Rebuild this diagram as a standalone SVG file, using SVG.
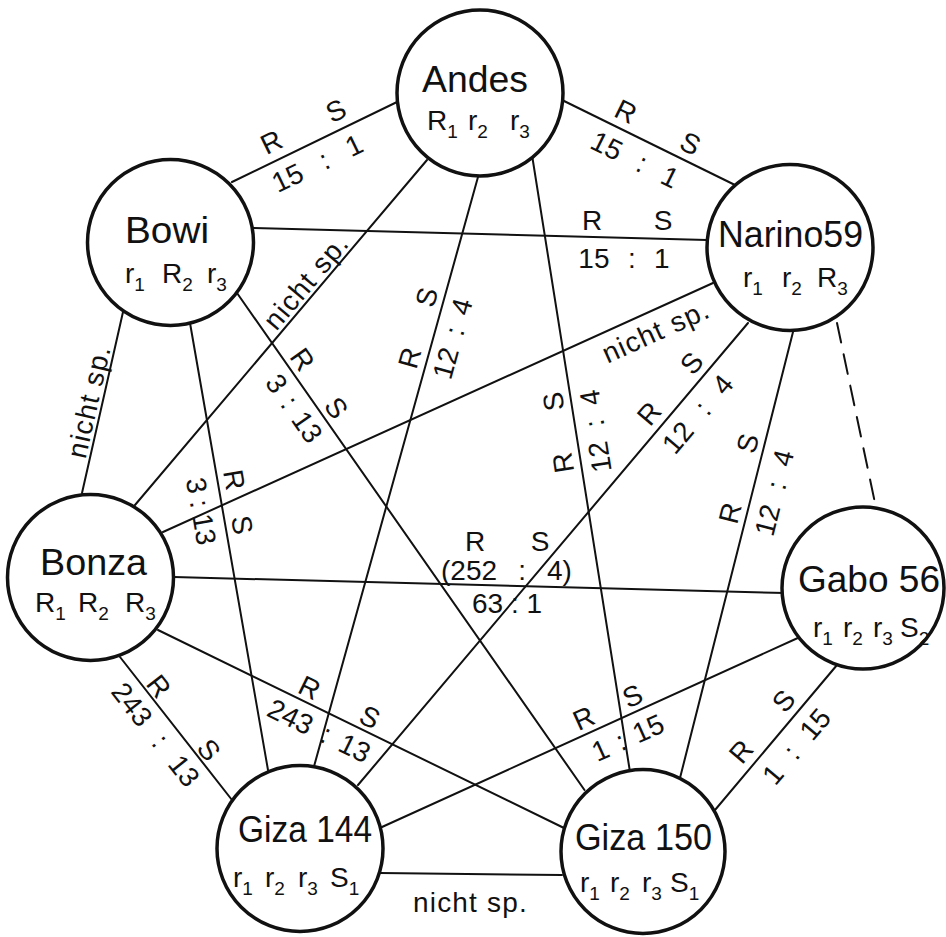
<svg xmlns="http://www.w3.org/2000/svg" width="946" height="937" viewBox="0 0 946 937">
<style>
text{font-family:"Liberation Sans",Arial,sans-serif;fill:#111}
.edge line{stroke:#111;stroke-width:2;fill:none;stroke-linecap:round}
.dashed{stroke-dasharray:20 12}
.lbl{font-size:28px;text-anchor:middle}
.ns{font-size:28px;text-anchor:middle;letter-spacing:1.2px}
.node circle{fill:#fff;stroke:#111;stroke-width:3.5}
.name{font-size:36px}
.attr{font-size:28px}
.sub{font-size:19px}
</style>
<rect width="946" height="937" fill="#fff"/>
<g id="connectors" class="edge">
 <g id="e-bowi-andes"><line x1="232" y1="182" x2="397" y2="102"/>
  <g transform="translate(314.5 142) rotate(-25.9)"><text class="lbl" x="-39" y="-9">R</text><text class="lbl" x="33" y="-9">S</text><text class="lbl" x="-6.9" y="30" style="word-spacing:13.6px">15 : 1</text></g></g>
 <g id="e-andes-narino"><line x1="562" y1="100" x2="735" y2="185"/>
  <g transform="translate(648.5 142.5) rotate(26.2)"><text class="lbl" x="-34" y="-8">R</text><text class="lbl" x="38" y="-8">S</text><text class="lbl" x="-4.6" y="31" style="word-spacing:11.9px">15 : 1</text></g></g>
 <g id="e-bowi-narino"><line x1="253" y1="228" x2="707" y2="240"/>
  <text class="lbl" x="592" y="230">R</text><text class="lbl" x="663" y="230">S</text><text class="lbl" x="624" y="268" style="word-spacing:10.6px">15 : 1</text></g>
 <g id="e-andes-bonza"><line x1="427" y1="160" x2="135" y2="505"/>
  <g transform="translate(281 332.5) rotate(-49.8)"><text class="ns" x="55" y="-4">nicht sp.</text></g></g>
 <g id="e-bowi-bonza"><line x1="123" y1="312" x2="82" y2="493"/>
  <g transform="translate(102.5 402.5) rotate(-77.2)"><text class="ns" x="-2" y="-4">nicht sp.</text></g></g>
 <g id="e-bowi-giza150"><line x1="237" y1="293" x2="584.5" y2="790"/>
  <g transform="translate(237 293) rotate(55.04)"><text class="lbl" x="92" y="-6">R</text><text class="lbl" x="151" y="-6">S</text><text class="lbl" x="127.4" y="29" style="word-spacing:3.2px">3 : 13</text></g></g>
 <g id="e-bowi-giza144"><line x1="190" y1="323" x2="268" y2="770"/>
  <g transform="translate(190 323) rotate(80.1)"><text class="lbl" x="162" y="-7">R</text><text class="lbl" x="208" y="-7">S</text><text class="lbl" x="187.4" y="31" style="word-spacing:-1px">3 : 13</text></g></g>
 <g id="e-andes-giza144"><line x1="478" y1="177" x2="313" y2="770"/>
  <g transform="translate(313 770) rotate(-74.4)"><text class="lbl" x="423" y="-8">R</text><text class="lbl" x="486" y="-8">S</text><text class="lbl" x="453" y="28" style="word-spacing:6px">12 : 4</text></g></g>
 <g id="e-andes-giza150"><line x1="532" y1="155" x2="630" y2="772"/>
  <g transform="translate(630 772) rotate(-99)"><text class="lbl" x="316" y="-8">R</text><text class="lbl" x="378" y="-8">S</text><text class="lbl" x="342" y="29" style="word-spacing:6.6px">12 : 4</text></g></g>
 <g id="e-narino-bonza"><line x1="713" y1="283" x2="163" y2="532"/>
  <g transform="translate(713 283) rotate(-24.4)"><text class="ns" x="-72" y="30">nicht sp.</text></g></g>
 <g id="e-narino-giza144"><line x1="748" y1="323" x2="358" y2="785"/>
  <g transform="translate(748 323) rotate(-49.8)"><text class="lbl" x="-133" y="-7.5">R</text><text class="lbl" x="-67" y="-7.5">S</text><text class="lbl" x="-102" y="30" style="word-spacing:11.4px">12 : 4</text></g></g>
 <g id="e-narino-giza150"><line x1="793" y1="332" x2="680" y2="778"/>
  <g transform="translate(793 332) rotate(-75.8)"><text class="lbl" x="-191" y="-7">R</text><text class="lbl" x="-119" y="-7">S</text><text class="lbl" x="-160.5" y="31" style="word-spacing:8.6px">12 : 4</text></g></g>
 <g id="e-narino-gabo"><line class="dashed" x1="837" y1="323" x2="875" y2="503"/></g>
 <g id="e-bonza-gabo"><line x1="174" y1="577" x2="785" y2="593"/>
  <text class="lbl" x="475" y="551">R</text><text class="lbl" x="540" y="551">S</text>
  <text class="lbl" x="506.5" y="580" style="word-spacing:13.3px">(252 : 4)</text>
  <text class="lbl" x="507" y="613">63 : 1</text></g>
 <g id="e-bonza-giza144"><line x1="120" y1="657" x2="232" y2="800"/>
  <g transform="translate(120 657) rotate(51.9)"><text class="lbl" x="47" y="-3">R</text><text class="lbl" x="128" y="-3">S</text><text class="lbl" x="83" y="29.5" style="word-spacing:11px">243 : 13</text></g></g>
 <g id="e-bonza-giza150"><line x1="158" y1="630" x2="564" y2="828"/>
  <g transform="translate(158 630) rotate(26)"><text class="lbl" x="161.6" y="-5">R</text><text class="lbl" x="228.7" y="-5">S</text><text class="lbl" x="189" y="29.5" style="word-spacing:4.6px">243 : 13</text></g></g>
 <g id="e-giza144-gabo"><line x1="382" y1="827" x2="800" y2="637"/>
  <g transform="translate(382 827) rotate(-24.4)"><text class="lbl" x="228.5" y="-6">R</text><text class="lbl" x="282.3" y="-6">S</text><text class="lbl" x="260.7" y="30" style="word-spacing:3px">1 : 15</text></g></g>
 <g id="e-giza150-gabo"><line x1="715" y1="810" x2="837" y2="665"/>
  <g transform="translate(715 810) rotate(-49.9)"><text class="lbl" x="61.4" y="-8">R</text><text class="lbl" x="127.7" y="-8">S</text><text class="lbl" x="101.2" y="31" style="word-spacing:9.5px">1 : 15</text></g></g>
 <g id="e-giza144-giza150"><line x1="380" y1="873" x2="562" y2="875"/>
  <text class="ns" x="470.5" y="912">nicht sp.</text></g>
</g>
<g id="andes" class="node"><circle cx="480" cy="93" r="83"/>
 <text class="name" x="422" y="92" textLength="106" lengthAdjust="spacingAndGlyphs">Andes</text>
 <text class="attr" y="130"><tspan x="427">R</tspan><tspan class="sub" dy="8">1 </tspan><tspan x="468" dy="-8">r</tspan><tspan class="sub" dy="8">2 </tspan><tspan x="510" dy="-8">r</tspan><tspan class="sub" dy="8">3</tspan></text></g>
<g id="bowi" class="node"><circle cx="170.5" cy="242.5" r="83"/>
 <text class="name" x="125" y="243" textLength="84" lengthAdjust="spacingAndGlyphs">Bowi</text>
 <text class="attr" y="283"><tspan x="125">r</tspan><tspan class="sub" dy="8">1 </tspan><tspan x="162" dy="-8">R</tspan><tspan class="sub" dy="8">2 </tspan><tspan x="207" dy="-8">r</tspan><tspan class="sub" dy="8">3</tspan></text></g>
<g id="narino59" class="node"><circle cx="790" cy="247.5" r="83"/>
 <text class="name" x="718" y="247" textLength="145" lengthAdjust="spacingAndGlyphs">Narino59</text>
 <text class="attr" y="287"><tspan x="743">r</tspan><tspan class="sub" dy="8">1 </tspan><tspan x="782" dy="-8">r</tspan><tspan class="sub" dy="8">2 </tspan><tspan x="817" dy="-8">R</tspan><tspan class="sub" dy="8">3</tspan></text></g>
<g id="bonza" class="node"><circle cx="90.5" cy="577.5" r="83"/>
 <text class="name" x="40" y="575" textLength="107" lengthAdjust="spacingAndGlyphs">Bonza</text>
 <text class="attr" y="612"><tspan x="35">R</tspan><tspan class="sub" dy="8">1 </tspan><tspan x="78" dy="-8">R</tspan><tspan class="sub" dy="8">2 </tspan><tspan x="125" dy="-8">R</tspan><tspan class="sub" dy="8">3</tspan></text></g>
<g id="gabo56" class="node"><circle cx="863" cy="588" r="81"/>
 <text class="name" x="798" y="592" textLength="142" lengthAdjust="spacingAndGlyphs">Gabo 56</text>
 <text class="attr" y="637"><tspan x="813">r</tspan><tspan class="sub" dy="8">1 </tspan><tspan x="843" dy="-8">r</tspan><tspan class="sub" dy="8">2 </tspan><tspan x="873" dy="-8">r</tspan><tspan class="sub" dy="8">3 </tspan><tspan x="900" dy="-8">S</tspan><tspan class="sub" dy="8">2</tspan></text></g>
<g id="giza144" class="node"><circle cx="300" cy="848.5" r="83"/>
 <text class="name" x="238" y="842" textLength="134" lengthAdjust="spacingAndGlyphs">Giza 144</text>
 <text class="attr" y="887"><tspan x="233">r</tspan><tspan class="sub" dy="8">1 </tspan><tspan x="265" dy="-8">r</tspan><tspan class="sub" dy="8">2 </tspan><tspan x="298" dy="-8">r</tspan><tspan class="sub" dy="8">3 </tspan><tspan x="330" dy="-8">S</tspan><tspan class="sub" dy="8">1</tspan></text></g>
<g id="giza150" class="node"><circle cx="643" cy="851.5" r="82"/>
 <text class="name" x="575" y="850" textLength="137" lengthAdjust="spacingAndGlyphs">Giza 150</text>
 <text class="attr" y="892"><tspan x="580">r</tspan><tspan class="sub" dy="8">1 </tspan><tspan x="610" dy="-8">r</tspan><tspan class="sub" dy="8">2 </tspan><tspan x="642" dy="-8">r</tspan><tspan class="sub" dy="8">3 </tspan><tspan x="670" dy="-8">S</tspan><tspan class="sub" dy="8">1</tspan></text></g>
</svg>
